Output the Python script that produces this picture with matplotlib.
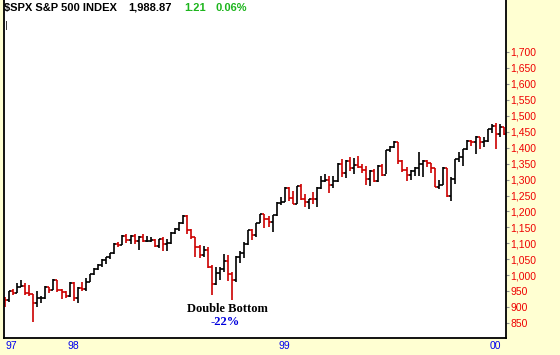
import numpy as np
import matplotlib
matplotlib.use('Agg')
import matplotlib.pyplot as plt

# weekly bars, Sep 1997 .. Jan 2000 (high, low, close)
first_open = 929
highs = [933, 952, 958, 975, 985, 975, 970, 941, 951, 935, 966, 963, 988, 986, 957, 950,
         978, 978, 963, 978, 992, 1004, 1024, 1035, 1050, 1058, 1070, 1100, 1105, 1125, 1130, 1126,
         1130, 1122, 1130, 1122, 1120, 1114, 1114, 1119, 1113, 1137, 1148, 1167, 1190, 1188, 1145, 1120,
         1095, 1092, 1090, 1032, 1025, 1025, 1066, 1063, 1010, 1062, 1075, 1103, 1141, 1145, 1164, 1193,
         1193, 1187, 1189, 1229, 1244, 1278, 1276, 1263, 1280, 1286, 1254, 1240, 1262, 1276, 1311, 1316,
         1312, 1310, 1351, 1363, 1362, 1371, 1367, 1375, 1348, 1341, 1330, 1334, 1345, 1350, 1392, 1405,
         1421, 1419, 1360, 1338, 1330, 1340, 1385, 1362, 1362, 1353, 1337, 1300, 1338, 1337, 1309, 1364,
         1387, 1397, 1424, 1425, 1436, 1434, 1433, 1459, 1473, 1478, 1473, 1465]
lows = [902, 918, 938, 944, 963, 940, 936, 855, 902, 912, 925, 944, 955, 947, 925, 928,
        932, 920, 912, 950, 950, 978, 1000, 1017, 1027, 1035, 1050, 1068, 1090, 1094, 1100, 1098,
        1098, 1080, 1104, 1105, 1105, 1088, 1085, 1075, 1077, 1098, 1130, 1140, 1162, 1130, 1115, 1057,
        1055, 1056, 1023, 940, 970, 985, 1010, 982, 923, 980, 1040, 1055, 1095, 1111, 1119, 1163,
        1149, 1150, 1137, 1186, 1221, 1229, 1234, 1224, 1223, 1237, 1213, 1208, 1225, 1215, 1271, 1292,
        1257, 1275, 1293, 1307, 1304, 1327, 1318, 1336, 1319, 1282, 1281, 1292, 1293, 1311, 1316, 1386,
        1398, 1350, 1325, 1296, 1299, 1312, 1310, 1309, 1340, 1322, 1276, 1269, 1282, 1245, 1233, 1287,
        1354, 1341, 1394, 1405, 1379, 1397, 1403, 1419, 1446, 1397, 1434, 1439]
closes = [924, 950, 945, 965, 967, 944, 942, 915, 928, 928, 963, 955, 984, 953, 947, 936,
          975, 928, 961, 958, 980, 1003, 1020, 1034, 1049, 1056, 1069, 1099, 1095, 1123, 1111, 1123,
          1108, 1121, 1108, 1109, 1110, 1091, 1114, 1099, 1101, 1133, 1146, 1164, 1187, 1141, 1121, 1089,
          1063, 1081, 1027, 974, 1009, 1020, 1045, 1003, 984, 1056, 1071, 1099, 1141, 1126, 1164, 1192,
          1177, 1166, 1188, 1226, 1229, 1275, 1243, 1225, 1280, 1239, 1230, 1239, 1238, 1275, 1295, 1299,
          1283, 1294, 1348, 1319, 1357, 1335, 1345, 1338, 1330, 1302, 1328, 1294, 1343, 1315, 1391, 1403,
          1419, 1357, 1329, 1314, 1328, 1337, 1348, 1357, 1352, 1335, 1277, 1283, 1336, 1247, 1302, 1363,
          1370, 1396, 1422, 1417, 1433, 1417, 1421, 1458, 1469, 1441, 1465, 1441]

year_labels = ['97', '98', '99', '00']
year_pos = [0.1, 15.35, 67.35, 119.35]

opens = [first_open] + closes[:-1]
x = np.arange(len(closes))
colors = ['#CC0000' if c < o else '#000000' for o, c in zip(opens, closes)]

W, H = 560, 355
fig = plt.figure(figsize=(W / 100, H / 100), dpi=100, facecolor='#FFFFD2')
ax = fig.add_axes([3.5 / W, 17 / H, (506 - 3.5) / W, 338 / H])
ax.set_facecolor('white')

ax.vlines(x, lows, highs, colors=colors, lw=1.2)
ax.hlines(opens, x - 0.5, x, colors=colors, lw=1.2)
ax.hlines(closes, x, x + 0.5, colors=colors, lw=1.2)

ax.set_xlim(-0.3, 123.5)
ax.set_ylim(804, 1862)

ax.yaxis.tick_right()
yt = np.arange(850, 1701, 50)
ax.set_yticks(yt)
ax.set_yticklabels(['{:,}'.format(v) for v in yt], family='Liberation Sans', fontsize=7.5)
ax.tick_params(axis='y', length=2, width=0.8, color='#909090', labelcolor='#EE0000', pad=1)

ax.set_xticks(year_pos)
ax.set_xticklabels(year_labels, family='Liberation Sans', fontsize=7.5, ha='left')
ax.tick_params(axis='x', length=0, labelcolor='#0000EE', pad=2)

ax.spines['top'].set_visible(False)
for s in ['left', 'right', 'bottom']:
    ax.spines[s].set_linewidth(1.3)


def px(xp, yp):
    return xp / W, 1 - yp / H


# header line
hdr = dict(family='Liberation Sans', fontsize=8, fontweight='bold', va='center', ha='left')
fig.text(*px(4, 8), '$SPX S&P 500 INDEX', color='black', **hdr)
fig.text(*px(128, 8), '1,988.87', color='black', **hdr)
fig.text(*px(184, 8), '1.21', color='#1DB51D', **hdr)
fig.text(*px(215, 8), '0.06%', color='#1DB51D', **hdr)
fig.text(*px(4.5, 25.5), '|', color='black', family='DejaVu Sans', fontsize=6, va='center', ha='left')

# annotation
fig.text(*px(227, 309), 'Double Bottom', family='Liberation Serif', fontsize=9,
         fontweight='bold', color='black', ha='center', va='center')
fig.text(*px(225, 322), '-22%', family='Liberation Serif', fontsize=9,
         fontweight='bold', color='#0000DD', ha='center', va='center')

fig.savefig('out.png', dpi=100, facecolor=fig.get_facecolor())
